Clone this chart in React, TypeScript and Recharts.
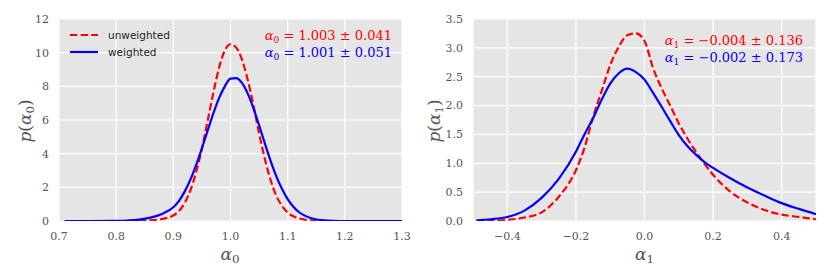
import { CartesianGrid, Legend, Line, LineChart, XAxis, YAxis } from "recharts"

// alpha_0 posterior
const x0 = [0.71, 0.75, 0.8, 0.82, 0.84, 0.86, 0.88, 0.9, 0.91, 0.92, 0.93, 0.94, 0.95, 0.96, 0.97, 0.98, 0.99, 1.0, 1.01, 1.02, 1.03, 1.04, 1.05, 1.06, 1.07, 1.08, 1.09, 1.1, 1.11, 1.12, 1.13, 1.14, 1.16, 1.18, 1.2, 1.25, 1.3]
const unweighted0 = [0, 0, 0, 0, 0.01, 0.04, 0.12, 0.33, 0.6, 1.08, 1.84, 2.92, 4.3, 5.95, 7.62, 9.1, 10.13, 10.5, 10.3, 9.6, 8.4, 6.9, 5.2, 3.7, 2.45, 1.5, 0.9, 0.5, 0.28, 0.15, 0.08, 0.04, 0.01, 0, 0, 0, 0]
const weighted0 = [0, 0, 0.01, 0.03, 0.08, 0.2, 0.42, 0.82, 1.2, 1.76, 2.47, 3.34, 4.32, 5.37, 6.39, 7.3, 8.0, 8.46, 8.49, 8.2, 7.58, 6.71, 5.69, 4.62, 3.59, 2.67, 1.91, 1.3, 0.85, 0.52, 0.32, 0.18, 0.05, 0.01, 0, 0, 0]

// alpha_1 posterior
const x1 = [-0.49, -0.45, -0.4, -0.35, -0.3, -0.25, -0.2, -0.175, -0.15, -0.125, -0.1, -0.075, -0.05, -0.025, 0, 0.025, 0.05, 0.075, 0.1, 0.125, 0.15, 0.175, 0.2, 0.25, 0.3, 0.35, 0.4, 0.45, 0.5]
const unweighted1 = [0, 0.005, 0.02, 0.06, 0.15, 0.42, 0.88, 1.27, 1.8, 2.25, 2.7, 3.02, 3.22, 3.25, 3.12, 2.65, 2.3, 2.0, 1.69, 1.43, 1.2, 0.99, 0.8, 0.51, 0.32, 0.19, 0.11, 0.07, 0.03]
const weighted1 = [0.01, 0.03, 0.07, 0.18, 0.4, 0.73, 1.2, 1.5, 1.78, 2.1, 2.38, 2.56, 2.64, 2.58, 2.45, 2.22, 1.98, 1.73, 1.49, 1.3, 1.15, 1.02, 0.92, 0.74, 0.58, 0.44, 0.31, 0.21, 0.12]

const xTicks0 = [0.7, 0.8, 0.9, 1.0, 1.1, 1.2, 1.3]
const yTicks0 = [0, 2, 4, 6, 8, 10, 12]
const xTicks1 = [-0.4, -0.2, 0, 0.2, 0.4]
const yTicks1 = [0, 0.5, 1, 1.5, 2, 2.5, 3, 3.5]

const data0 = x0.map((x, i) => ({ x, unweighted: unweighted0[i], weighted: weighted0[i] }))
const data1 = x1.map((x, i) => ({ x, unweighted: unweighted1[i], weighted: weighted1[i] }))

const RED = "#ff0000"
const BLUE = "#0000ff"
const DASH = "7.4 3.2"
const serif = "'DejaVu Serif', serif"
const tickStyle = { fill: "#555", fontSize: 11, fontFamily: serif }

const fmt1 = (v: number) => (v < 0 ? "\u2212" + Math.abs(v).toFixed(1) : v.toFixed(1))

const renderLegend = (props: any) => (
  <div style={{ fontFamily: "'DejaVu Sans', sans-serif", fontSize: 10.5, color: "#262626" }}>
    {props.payload.map((e: any) => (
      <div key={e.value} style={{ display: "flex", alignItems: "center", height: 17.5 }}>
        <svg width={28} height={6}>
          <line x1={0} y1={3} x2={28} y2={3} stroke={e.color} strokeWidth={2.2} strokeDasharray={e.payload?.strokeDasharray} />
        </svg>
        <span style={{ marginLeft: 10 }}>{e.value}</span>
      </div>
    ))}
  </div>
)

const Alpha = ({ sub }: { sub: string }) => (
  <>
    <span style={{ fontStyle: "italic" }}>α</span>
    <span style={{ fontSize: "0.7em", verticalAlign: "-0.3em", lineHeight: 0 }}>{sub}</span>
  </>
)

const Note = ({ sub, color, text }: { sub: string; color: string; text: string }) => (
  <div style={{ color, height: 17, lineHeight: "17px", whiteSpace: "pre" }}>
    <Alpha sub={sub} />
    {text}
  </div>
)

function Panel({ data, domain, xTicks, yTicks, xFmt, yFmt, marginLeft, marginRight, legend }: any) {
  return (
    <LineChart width={415} height={277} data={data} margin={{ top: 19, right: marginRight, bottom: 26, left: marginLeft }}>
      <CartesianGrid fill="#e5e5e5" stroke="#ffffff" strokeWidth={1.2} />
      <XAxis
        type="number"
        dataKey="x"
        domain={domain}
        ticks={xTicks}
        tickFormatter={xFmt}
        allowDataOverflow
        axisLine={false}
        tickLine={false}
        tickSize={0}
        tickMargin={11}
        height={30}
        tick={tickStyle}
        interval={0}
      />
      <YAxis
        type="number"
        domain={[yTicks[0], yTicks[yTicks.length - 1]]}
        ticks={yTicks}
        tickFormatter={yFmt}
        allowDataOverflow
        axisLine={false}
        tickLine={false}
        tickSize={0}
        tickMargin={10}
        width={40}
        tick={tickStyle}
        interval={0}
      />
      {legend && (
        <Legend
          layout="horizontal"
          align="center"
          verticalAlign="middle"
          content={renderLegend}
          wrapperStyle={{ position: "absolute", left: 70, top: 26, width: "auto", height: "auto" }}
        />
      )}
      <Line
        type="monotone"
        dataKey="unweighted"
        name="unweighted"
        stroke={RED}
        strokeWidth={2.2}
        strokeDasharray={DASH}
        dot={false}
        isAnimationActive={false}
      />
      <Line
        type="monotone"
        dataKey="weighted"
        name="weighted"
        stroke={BLUE}
        strokeWidth={2.2}
        dot={false}
        isAnimationActive={false}
      />
    </LineChart>
  )
}

const titleStyle = { position: "absolute" as const, fontFamily: serif, fontSize: 17, lineHeight: 1, color: "#555", whiteSpace: "pre" as const }
const noteStyle = { position: "absolute" as const, fontFamily: serif, fontSize: 13, textAlign: "right" as const }

export default function App() {
  return (
    <div style={{ position: "absolute", left: 0, top: 0, width: 830, height: 277, background: "#fff" }}>
      <div style={{ position: "absolute", left: 0, top: 0 }}>
        <Panel
          data={data0}
          domain={[0.7, 1.3]}
          xTicks={xTicks0}
          yTicks={yTicks0}
          xFmt={(v: number) => v.toFixed(1)}
          yFmt={(v: number) => String(v)}
          marginLeft={19}
          marginRight={13}
          legend
        />
        <div style={{ ...noteStyle, right: 23, top: 27 }}>
          <Note sub="0" color={RED} text=" = 1.003 ± 0.041" />
          <Note sub="0" color={BLUE} text=" = 1.001 ± 0.051" />
        </div>
        <div style={{ ...titleStyle, left: 230, top: 254, transform: "translate(-50%, -50%)" }}>
          <Alpha sub="0" />
        </div>
        <div style={{ ...titleStyle, left: 25, top: 121, transform: "translate(-50%, -50%) rotate(-90deg)" }}>
          <span style={{ fontStyle: "italic" }}>p</span>(<Alpha sub="0" />)
        </div>
      </div>
      <div style={{ position: "absolute", left: 415, top: 0 }}>
        <Panel
          data={data1}
          domain={[-0.5, 0.5]}
          xTicks={xTicks1}
          yTicks={yTicks1}
          xFmt={fmt1}
          yFmt={fmt1}
          marginLeft={18}
          marginRight={14}
        />
        <div style={{ ...noteStyle, right: 27, top: 32 }}>
          <Note sub="1" color={RED} text=" = −0.004 ± 0.136" />
          <Note sub="1" color={BLUE} text=" = −0.002 ± 0.173" />
        </div>
        <div style={{ ...titleStyle, left: 229.5, top: 254, transform: "translate(-50%, -50%)" }}>
          <Alpha sub="1" />
        </div>
        <div style={{ ...titleStyle, left: 19, top: 121, transform: "translate(-50%, -50%) rotate(-90deg)" }}>
          <span style={{ fontStyle: "italic" }}>p</span>(<Alpha sub="1" />)
        </div>
      </div>
    </div>
  )
}
